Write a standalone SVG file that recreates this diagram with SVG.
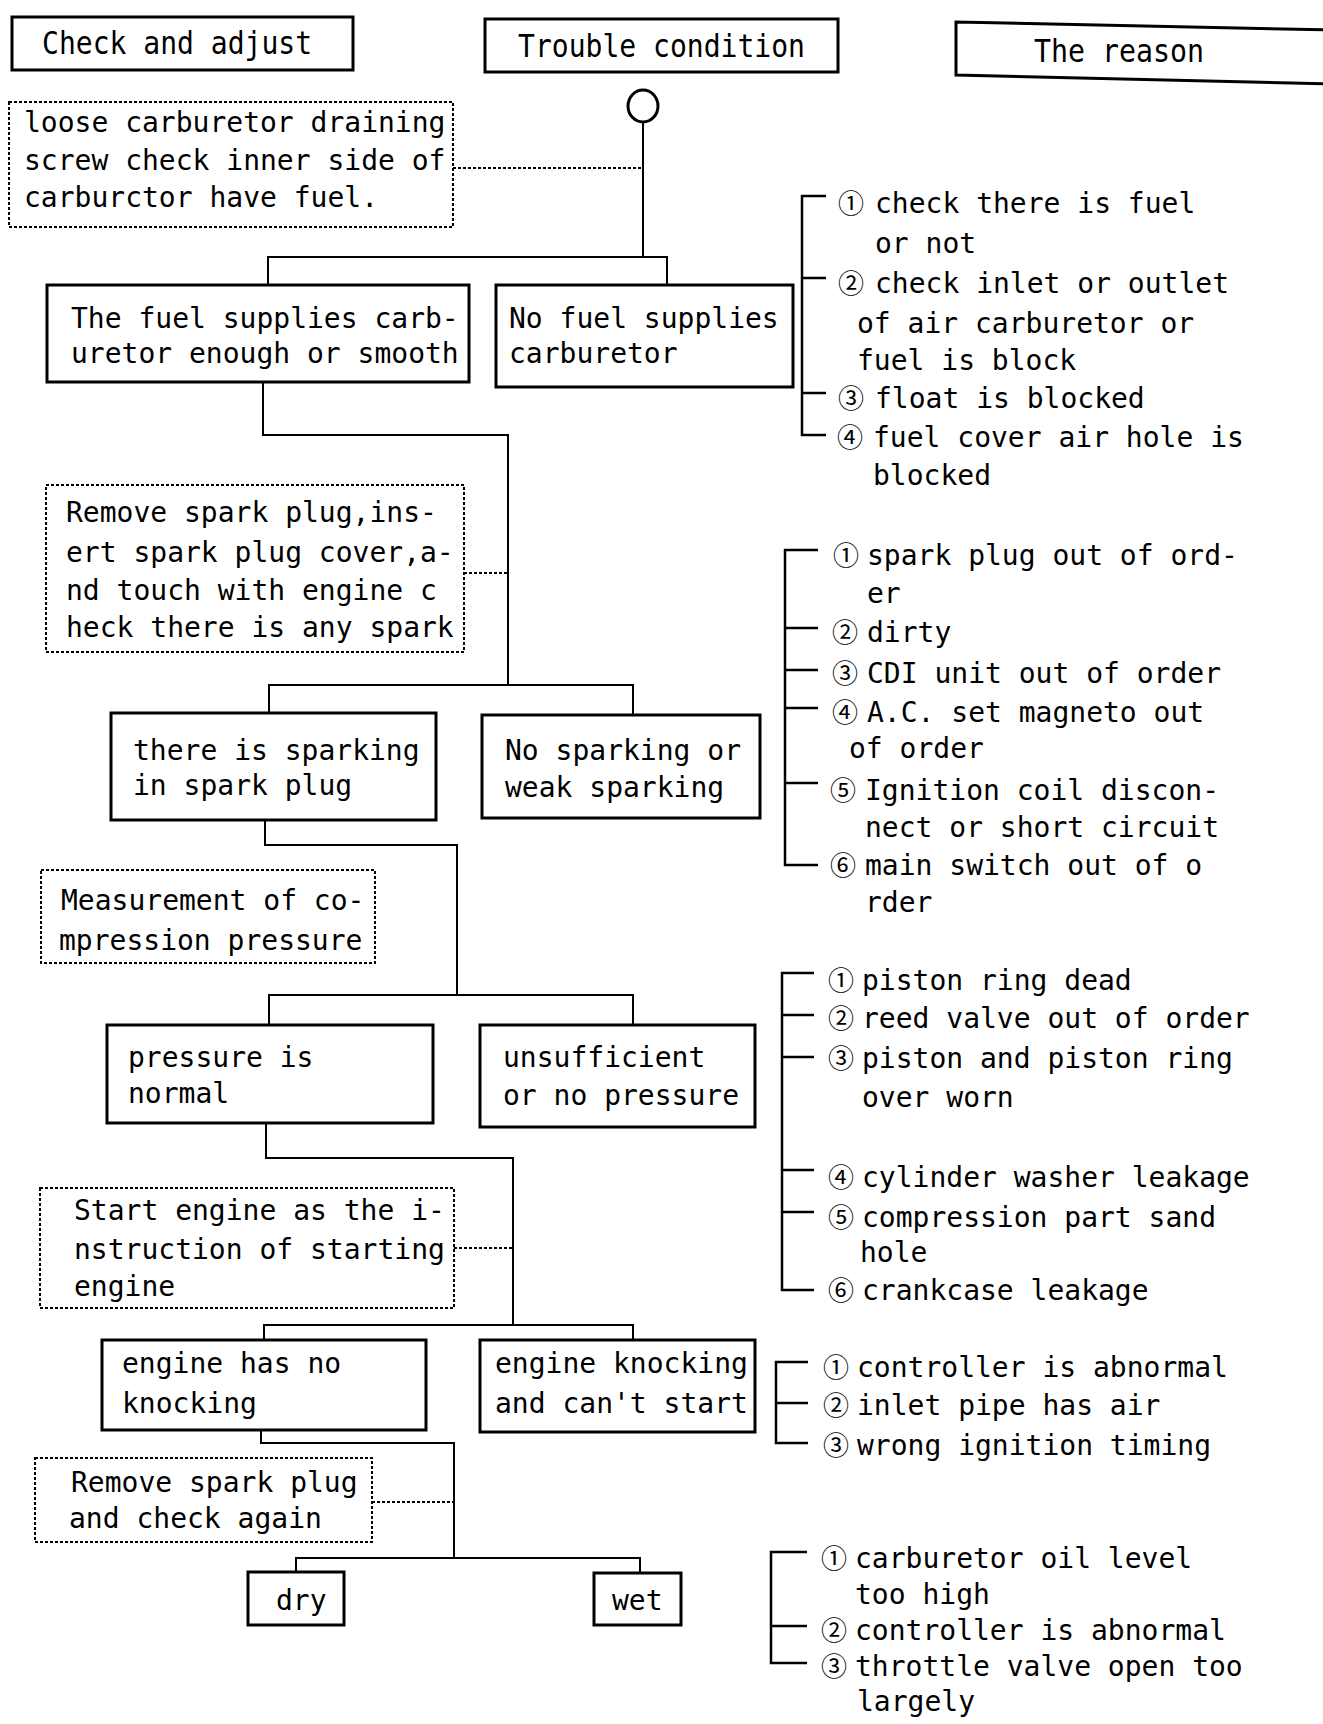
<svg xmlns="http://www.w3.org/2000/svg" width="1323" height="1724" viewBox="0 0 1323 1724">
  <style>
    .box { fill: #fff; stroke: #000; stroke-width: 3; }
    .note { fill: none; stroke: #000; stroke-width: 2; stroke-dasharray: 3 2; }
    .wire { fill: none; stroke: #000; stroke-width: 2; }
    .dash { fill: none; stroke: #000; stroke-width: 2; stroke-dasharray: 3 2; }
    .brk { fill: none; stroke: #000; stroke-width: 2.5; }
    text { font-family: "DejaVu Sans Mono", "Liberation Mono", monospace; font-size: 28px; fill: #000; }
    .hd { font-size: 32px; }
    .n { font-family: "Noto Sans CJK JP", "DejaVu Sans", sans-serif; font-size: 26px; }
  </style>
  <rect width="1323" height="1724" fill="#fff"/>

  <!-- column headings -->
  <g id="head-check">
    <rect class="box" x="12" y="17" width="341" height="53"/>
    <text class="hd" x="42" y="54" textLength="270" lengthAdjust="spacingAndGlyphs">Check and adjust</text>
  </g>
  <g id="head-trouble">
    <rect class="box" x="485" y="19" width="353" height="53"/>
    <text class="hd" x="518" y="57" textLength="287" lengthAdjust="spacingAndGlyphs">Trouble condition</text>
  </g>
  <g id="head-reason">
    <path class="box" d="M1330,30 L956,22 L956,75 L1330,84"/>
    <text class="hd" x="1034" y="62" textLength="170" lengthAdjust="spacingAndGlyphs">The reason</text>
  </g>

  <!-- start marker -->
  <g id="start">
    <ellipse cx="643" cy="106" rx="15" ry="16" fill="#fff" stroke="#000" stroke-width="3"/>
  </g>

  <!-- connectors -->
  <g id="connectors">
    <path class="wire" d="M643,122 V257"/>
    <path class="wire" stroke-width="4" d="M643,122 V142"/>
    <path class="wire" d="M268,285 V257 H667 V285"/>
    <path class="wire" d="M263,382 V435 H508 V685"/>
    <path class="wire" d="M269,713 V685 H633 V715"/>
    <path class="wire" d="M265,820 V845 H457 V995"/>
    <path class="wire" d="M269,1025 V995 H633 V1025"/>
    <path class="wire" d="M266,1123 V1158 H513 V1325"/>
    <path class="wire" d="M264,1340 V1325 H633 V1340"/>
    <path class="wire" d="M261,1430 V1443 H454 V1558"/>
    <path class="wire" d="M296,1572 V1558 H640 V1573"/>
    <path class="dash" d="M453,168 H643"/>
    <path class="dash" d="M464,573 H508"/>
    <path class="dash" d="M454,1248 H513"/>
    <path class="dash" d="M372,1502 H454"/>
  </g>

  <!-- step 1: fuel supply -->
  <g id="check-fuel">
    <rect class="note" x="9" y="102" width="444" height="125"/>
    <text x="24" y="132">loose carburetor draining</text>
    <text x="24" y="170">screw check inner side of</text>
    <text x="24" y="207">carburctor have fuel.</text>
  </g>
  <g id="fuel-ok">
    <rect class="box" x="47" y="285" width="422" height="97"/>
    <text x="71" y="328">The fuel supplies carb-</text>
    <text x="71" y="363">uretor enough or smooth</text>
  </g>
  <g id="fuel-none">
    <rect class="box" x="496" y="285" width="297" height="102"/>
    <text x="509" y="328">No fuel supplies</text>
    <text x="509" y="363">carburetor</text>
  </g>
  <g id="reasons-fuel">
    <path class="brk" d="M826,196 H802 V435 H826 M802,278 H826 M802,393 H826"/>
    <text x="838" y="213"><tspan class="n">①</tspan><tspan x="875">check there is fuel</tspan></text>
    <text x="875" y="253">or not</text>
    <text x="838" y="293"><tspan class="n">②</tspan><tspan x="875">check inlet or outlet</tspan></text>
    <text x="857" y="333">of air carburetor or</text>
    <text x="857" y="370">fuel is block</text>
    <text x="838" y="408"><tspan class="n">③</tspan><tspan x="875">float is blocked</tspan></text>
    <text x="837" y="447"><tspan class="n">④</tspan><tspan x="873">fuel cover air hole is</tspan></text>
    <text x="873" y="485">blocked</text>
  </g>

  <!-- step 2: spark -->
  <g id="check-spark">
    <rect class="note" x="46" y="485" width="418" height="167"/>
    <text x="66" y="522">Remove spark plug,ins-</text>
    <text x="66" y="562">ert spark plug cover,a-</text>
    <text x="66" y="600">nd touch with engine c</text>
    <text x="66" y="637">heck there is any spark</text>
  </g>
  <g id="spark-ok">
    <rect class="box" x="111" y="713" width="325" height="107"/>
    <text x="133" y="760">there is sparking</text>
    <text x="133" y="795">in spark plug</text>
  </g>
  <g id="spark-weak">
    <rect class="box" x="482" y="715" width="278" height="103"/>
    <text x="505" y="760">No sparking or</text>
    <text x="505" y="797">weak sparking</text>
  </g>
  <g id="reasons-spark">
    <path class="brk" d="M818,550 H785 V865 H818 M785,628 H818 M785,670 H818 M785,708 H818 M785,783 H818"/>
    <text x="833" y="565"><tspan class="n">①</tspan><tspan x="867">spark plug out of ord-</tspan></text>
    <text x="867" y="603">er</text>
    <text x="832" y="642"><tspan class="n">②</tspan><tspan x="867">dirty</tspan></text>
    <text x="832" y="683"><tspan class="n">③</tspan><tspan x="867">CDI unit out of order</tspan></text>
    <text x="832" y="722"><tspan class="n">④</tspan><tspan x="867">A.C. set magneto out</tspan></text>
    <text x="849" y="758">of order</text>
    <text x="830" y="800"><tspan class="n">⑤</tspan><tspan x="865">Ignition coil discon-</tspan></text>
    <text x="865" y="837">nect or short circuit</text>
    <text x="830" y="875"><tspan class="n">⑥</tspan><tspan x="865">main switch out of o</tspan></text>
    <text x="865" y="912">rder</text>
  </g>

  <!-- step 3: compression -->
  <g id="check-compression">
    <rect class="note" x="41" y="870" width="334" height="93"/>
    <text x="61" y="910">Measurement of co-</text>
    <text x="59" y="950">mpression pressure</text>
  </g>
  <g id="pressure-ok">
    <rect class="box" x="107" y="1025" width="326" height="98"/>
    <text x="128" y="1067">pressure is</text>
    <text x="128" y="1103">normal</text>
  </g>
  <g id="pressure-low">
    <rect class="box" x="480" y="1025" width="275" height="102"/>
    <text x="503" y="1067">unsufficient</text>
    <text x="503" y="1105">or no pressure</text>
  </g>
  <g id="reasons-pressure">
    <path class="brk" d="M814,973 H782 V1290 H814 M782,1015 H814 M782,1057 H814 M782,1170 H814 M782,1212 H814"/>
    <text x="828" y="990"><tspan class="n">①</tspan><tspan x="862">piston ring dead</tspan></text>
    <text x="828" y="1028"><tspan class="n">②</tspan><tspan x="862">reed valve out of order</tspan></text>
    <text x="828" y="1068"><tspan class="n">③</tspan><tspan x="862">piston and piston ring</tspan></text>
    <text x="862" y="1107">over worn</text>
    <text x="828" y="1187"><tspan class="n">④</tspan><tspan x="862">cylinder washer leakage</tspan></text>
    <text x="828" y="1227"><tspan class="n">⑤</tspan><tspan x="862">compression part sand</tspan></text>
    <text x="860" y="1262">hole</text>
    <text x="828" y="1300"><tspan class="n">⑥</tspan><tspan x="862">crankcase leakage</tspan></text>
  </g>

  <!-- step 4: starting -->
  <g id="check-start">
    <rect class="note" x="40" y="1188" width="414" height="120"/>
    <text x="74" y="1220">Start engine as the i-</text>
    <text x="74" y="1259">nstruction of starting</text>
    <text x="74" y="1296">engine</text>
  </g>
  <g id="engine-quiet">
    <rect class="box" x="102" y="1340" width="324" height="90"/>
    <text x="122" y="1373">engine has no</text>
    <text x="122" y="1413">knocking</text>
  </g>
  <g id="engine-knock">
    <rect class="box" x="480" y="1340" width="275" height="92"/>
    <text x="495" y="1373">engine knocking</text>
    <text x="495" y="1413">and can't start</text>
  </g>
  <g id="reasons-knock">
    <path class="brk" stroke-width="4" d="M808,1362 H776 V1443 H808 M776,1403 H808"/>
    <text x="823" y="1377"><tspan class="n">①</tspan><tspan x="857">controller is abnormal</tspan></text>
    <text x="823" y="1415"><tspan class="n">②</tspan><tspan x="857">inlet pipe has air</tspan></text>
    <text x="823" y="1455"><tspan class="n">③</tspan><tspan x="857">wrong ignition timing</tspan></text>
  </g>

  <!-- step 5: plug condition -->
  <g id="check-plug">
    <rect class="note" x="35" y="1458" width="337" height="84"/>
    <text x="71" y="1492">Remove spark plug</text>
    <text x="69" y="1528">and check again</text>
  </g>
  <g id="plug-dry">
    <rect class="box" x="248" y="1572" width="96" height="53"/>
    <text x="276" y="1610">dry</text>
  </g>
  <g id="plug-wet">
    <rect class="box" x="594" y="1573" width="87" height="52"/>
    <text x="612" y="1610">wet</text>
  </g>
  <g id="reasons-wet">
    <path class="brk" d="M807,1552 H771 V1663 H807 M771,1626 H807"/>
    <text x="821" y="1568"><tspan class="n">①</tspan><tspan x="855">carburetor oil level</tspan></text>
    <text x="855" y="1604">too high</text>
    <text x="821" y="1640"><tspan class="n">②</tspan><tspan x="855">controller is abnormal</tspan></text>
    <text x="821" y="1676"><tspan class="n">③</tspan><tspan x="855">throttle valve open too</tspan></text>
    <text x="857" y="1711">largely</text>
  </g>
</svg>
